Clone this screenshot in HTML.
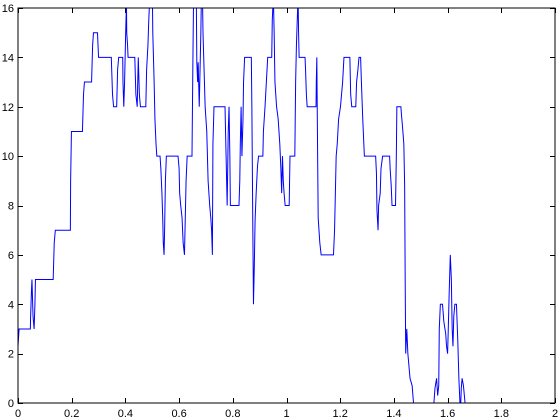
<!DOCTYPE html>
<html><head><meta charset="utf-8"><style>
html,body{margin:0;padding:0;background:#fff;}
svg{display:block;font-family:"Liberation Sans",sans-serif;}
</style></head><body>
<svg id="chart" width="560" height="420" xmlns="http://www.w3.org/2000/svg">
<rect x="0" y="0" width="560" height="420" fill="#fff"/>
<defs><clipPath id="clip"><rect x="18" y="8" width="537" height="395"/></clipPath></defs>
<g id="ticks"></g>
<g clip-path="url(#clip)"><polyline id="series" fill="none" stroke="#0000ff" stroke-width="1"/></g>
<rect x="18" y="8" width="537" height="395" fill="none" stroke="#000" stroke-width="1"/>
</svg>
<script>
const xs=[0,0.004,0.046,0.047,0.05,0.052,0.056,0.06,0.063,0.065,0.131,0.135,0.139,0.195,0.196,0.199,0.24,0.244,0.2475,0.274,0.278,0.281,0.296,0.3,0.3475,0.352,0.356,0.3675,0.371,0.375,0.39,0.391,0.394,0.397,0.401,0.404,0.405,0.408,0.41,0.435,0.439,0.444,0.448,0.452,0.456,0.476,0.479,0.484,0.487,0.491,0.5,0.502,0.507,0.51,0.514,0.517,0.529,0.532,0.536,0.539,0.541,0.544,0.546,0.549,0.5525,0.596,0.6,0.602,0.606,0.611,0.615,0.62,0.622,0.626,0.63,0.648,0.652,0.654,0.66,0.664,0.666,0.669,0.671,0.675,0.676,0.681,0.683,0.687,0.689,0.693,0.697,0.703,0.708,0.714,0.718,0.721,0.724,0.726,0.73,0.771,0.773,0.777,0.779,0.783,0.786,0.789,0.791,0.823,0.826,0.828,0.831,0.834,0.838,0.84,0.844,0.869,0.871,0.875,0.877,0.88,0.883,0.887,0.892,0.896,0.912,0.914,0.92,0.925,0.93,0.945,0.947,0.951,0.954,0.957,0.963,0.969,0.975,0.979,0.982,0.985,0.988,0.991,0.995,1.01,1.013,1.031,1.034,1.037,1.04,1.043,1.045,1.047,1.069,1.071,1.074,1.077,1.11,1.111,1.113,1.114,1.118,1.124,1.129,1.175,1.179,1.182,1.185,1.189,1.194,1.201,1.209,1.214,1.236,1.239,1.243,1.258,1.261,1.266,1.27,1.276,1.279,1.284,1.288,1.29,1.332,1.335,1.337,1.341,1.343,1.349,1.352,1.358,1.384,1.386,1.39,1.393,1.406,1.409,1.411,1.426,1.428,1.432,1.437,1.44,1.442,1.444,1.448,1.452,1.456,1.46,1.468,1.473,1.48,1.54,1.549,1.553,1.559,1.563,1.567,1.569,1.573,1.581,1.586,1.593,1.596,1.6,1.602,1.606,1.61,1.614,1.617,1.62,1.623,1.627,1.633,1.638,1.642,1.646,1.647,1.649,1.651,1.654,1.659,1.665];
const ys=[2.3,3,3,3.5,4.5,5,3.5,3,4,5,5,6.5,7,7,9,11,11,12.5,13,13,14.5,15,15,14,14,12.5,12,12,13.5,14,14,13,12,13,15,16.2,15,14.5,14,14,12.5,12,14,12.5,12,12,13.5,14.5,15.5,16.5,17,15,13,11.5,10.5,10,10,9.5,8.5,7.5,6.5,6,7,9,10,10,9.5,8.5,8,7.5,6.5,6,7,9,10,10,14.5,16.5,17,16.5,13.8,13,13.8,12,12.5,15,16.5,16.5,15,13.5,12,11,9,8,7.5,7,6,10.5,12,12,11,9,8,11,12,10,8,8,9,10.5,12,10,11.5,13,14,14,12,6.5,4,5.5,7.4,8.5,9.6,10,10,11,12,13,14,14,15.5,16.5,15,13,12,11.5,10.5,9.5,8.5,10,9,8.5,8,8,10,10,13,14.5,15.5,16.5,15,14,14,13.5,12.5,12,12,13,14,12.5,7.5,6.5,6,6,7,8.5,10,10.5,11.5,12,13,14,14,12.5,12,12,13,13.5,14,14,13,11.5,10.5,10,10,9.3,7.8,7,8,8.5,9.5,10,10,9.5,8.8,8,8,10,12,12,11.7,11.2,10.5,8.8,5,2,3,2,1.5,1,0.7,0,-1,-1,0,0.6,1,0.3,0.7,3,4,4,3.3,2.8,2.3,2,2.8,4.5,6,5,3,2.3,3.5,4,4,2.5,1,0,-1,0,0.6,1,0.7,0];
const xTickLabels=["0","0.2","0.4","0.6","0.8","1","1.2","1.4","1.6","1.8","2"];
const yTickLabels=["0","2","4","6","8","10","12","14","16"];
const X0=18,X1=555,Y0=403,Y1=8,XMAX=2,YMAX=16;
function sx(v){return X0+(X1-X0)*v/XMAX;}
function sy(v){return Y0-(Y0-Y1)*v/YMAX;}
const NS="http://www.w3.org/2000/svg";
const line=document.getElementById('series');
const n=Math.min(xs.length,ys.length);
const pts=[];
for(let i=0;i<n;i++)pts.push(sx(xs[i]).toFixed(2)+','+sy(ys[i]).toFixed(2));
line.setAttribute('points',pts.join(' '));
const tg=document.getElementById('ticks');
function mk(tag,attrs){const e=document.createElementNS(NS,tag);for(const k in attrs)e.setAttribute(k,attrs[k]);return e;}
xTickLabels.forEach(t=>{
  const v=parseFloat(t),x=Math.round(sx(v))+0.5;
  const a=mk('line',{x1:x,x2:x,y1:Y0,y2:Y0-5,stroke:'#000'});
  
  
  tg.appendChild(a);
  const b=mk('line',{x1:x,x2:x,y1:Y1,y2:Y1+5,stroke:'#000'});
  
  
  tg.appendChild(b);
  const tx=mk('text',{x:sx(v),y:417,'text-anchor':'middle','font-size':'11'});
  tx.textContent=t;
  
  
  tg.appendChild(tx);
});
yTickLabels.forEach(t=>{
  const v=parseFloat(t),y=Math.round(sy(v))+0.5;
  const a=mk('line',{x1:X0,x2:X0+5,y1:y,y2:y,stroke:'#000'});
  
  
  tg.appendChild(a);
  const b=mk('line',{x1:X1,x2:X1-5,y1:y,y2:y,stroke:'#000'});
  
  
  tg.appendChild(b);
  const tx=mk('text',{x:14,y:sy(v)+4,'text-anchor':'end','font-size':'11'});
  tx.textContent=t;
  
  
  tg.appendChild(tx);
});
</script>
</body></html>
